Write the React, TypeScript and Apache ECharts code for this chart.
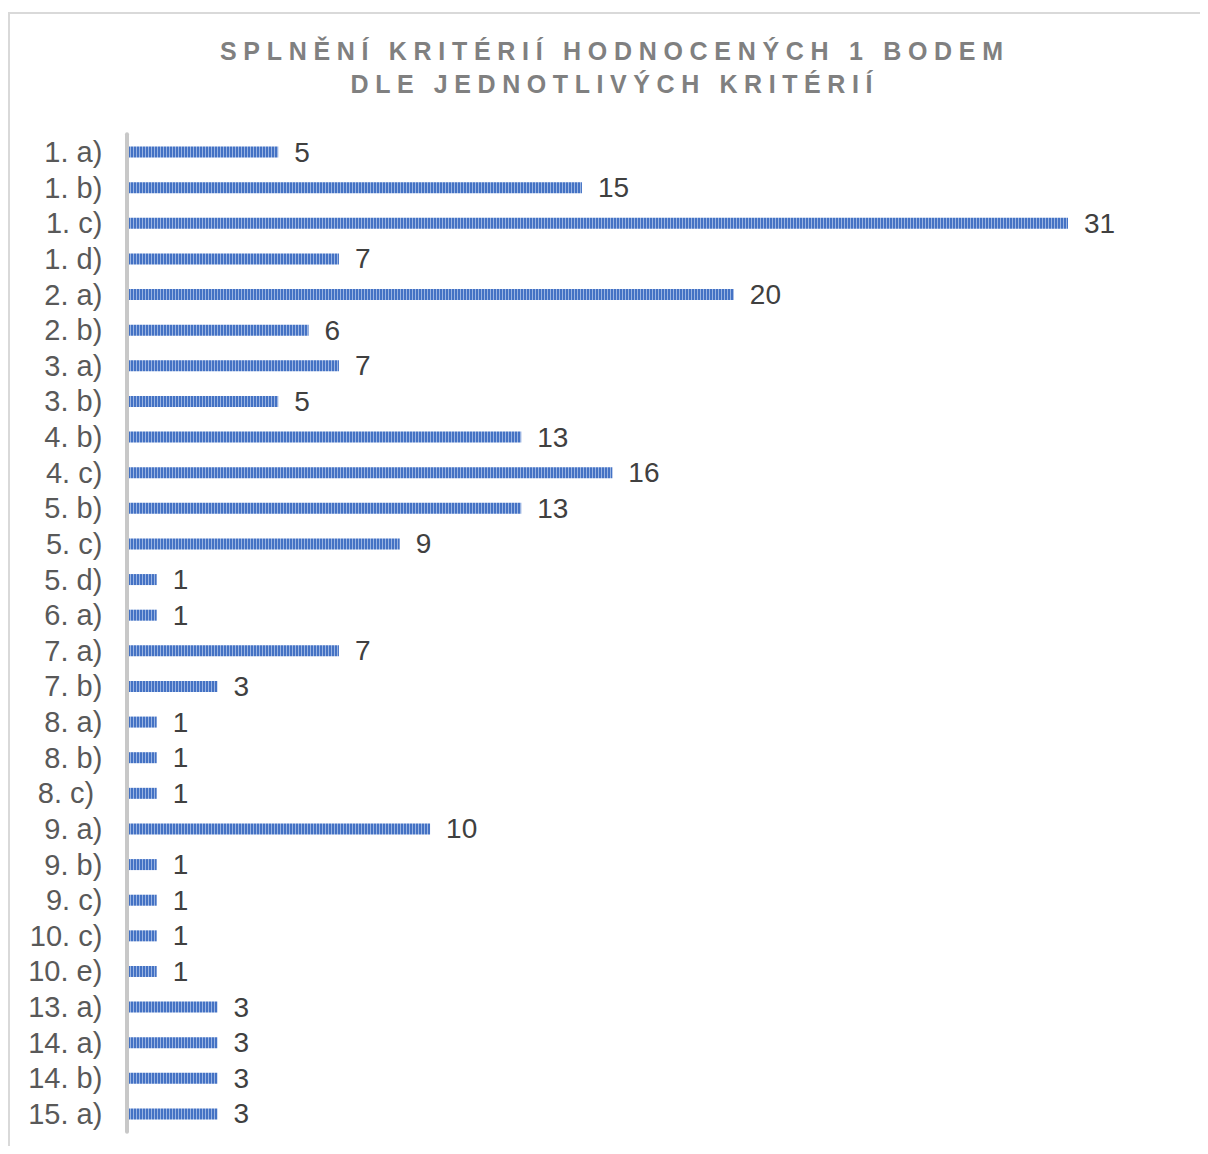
import React, { useEffect, useRef } from "react";
import * as echarts from "echarts";

const titleLines = ["SPLNĚNÍ KRITÉRIÍ HODNOCENÝCH 1 BODEM", "DLE JEDNOTLIVÝCH KRITÉRIÍ"];

const categories = [
  "1. a)", "1. b)", "1. c)", "1. d)", "2. a)", "2. b)", "3. a)", "3. b)",
  "4. b)", "4. c)", "5. b)", "5. c)", "5. d)", "6. a)", "7. a)", "7. b)",
  "8. a)", "8. b)", "8. c) ", "9. a)", "9. b)", "9. c)", "10. c)", "10. e)",
  "13. a)", "14. a)", "14. b)", "15. a)",
];

const values = [
  5, 15, 31, 7, 20, 6, 7, 5,
  13, 16, 13, 9, 1, 1, 7, 3,
  1, 1, 1, 10, 1, 1, 1, 1,
  3, 3, 3, 3,
];

const FONT = "'Liberation Sans', Arial, sans-serif";
const TITLE_FONT = `bold 25px ${FONT}`;
const titleTargetWidths = [783, 522];

function makeStripe(): any {
  const c = document.createElement("canvas");
  c.width = 3;
  c.height = 1;
  const ctx = c.getContext("2d");
  if (ctx) {
    ctx.fillStyle = "#4472C4";
    ctx.fillRect(0, 0, 2, 1);
    ctx.fillStyle = "#9AB4E2";
    ctx.fillRect(2, 0, 1, 1);
  }
  return { image: c, repeat: "repeat", imageWidth: 3, imageHeight: 1 };
}

function spacingFor(text: string, target: number): number {
  const c = document.createElement("canvas");
  const ctx = c.getContext("2d");
  if (!ctx) return 8;
  ctx.font = TITLE_FONT;
  const w = ctx.measureText(text).width;
  const n = Array.from(text).length;
  return Math.max(0, (target - w) / (n - 1));
}

export default function App() {
  const ref = useRef<HTMLDivElement>(null);

  useEffect(() => {
    if (!ref.current) return;
    const chart = echarts.init(ref.current, null, { renderer: "svg" });
    const ls = titleLines.map((t, i) => spacingFor(t, titleTargetWidths[i]));
    const centerX = 603.5;
    chart.setOption({
      animation: false,
      backgroundColor: "#ffffff",
      graphic: [
        {
          type: "rect",
          shape: { x: 1, y: 5, width: 1400, height: 1400 },
          style: { fill: "none", stroke: "#D9D9D9", lineWidth: 2 },
          silent: true,
        },
        {
          type: "text",
          style: {
            text: titleLines[0],
            x: centerX + ls[0] / 2,
            y: 43,
            textAlign: "center",
            textVerticalAlign: "middle",
            font: TITLE_FONT,
            fill: "#808080",
          },
        },
        {
          type: "text",
          style: {
            text: titleLines[1],
            x: centerX + ls[1] / 2,
            y: 76,
            textAlign: "center",
            textVerticalAlign: "middle",
            font: TITLE_FONT,
            fill: "#808080",
          },
        },
      ],
      grid: {
        left: 118.3,
        top: 126.2,
        width: 941.7,
        height: 997.6,
        containLabel: false,
      },
      xAxis: {
        type: "value",
        min: 0,
        max: 31,
        show: false,
        splitLine: { show: false },
      },
      yAxis: {
        type: "category",
        data: categories,
        inverse: true,
        z: 3,
        axisLine: { show: true, lineStyle: { color: "#C8C8C8", width: 4 } },
        axisTick: { show: false },
        axisLabel: {
          interval: 0,
          margin: 24,
          fontSize: 29,
          color: "#595959",
          fontFamily: FONT,
        },
      },
      series: [
        {
          type: "bar",
          data: values,
          barWidth: 11,
          itemStyle: { color: makeStripe() },
          label: {
            show: true,
            position: "right",
            distance: 16,
            fontSize: 28,
            color: "#404040",
            fontFamily: FONT,
          },
        },
      ],
    });
    const texts = ref.current.querySelectorAll("text");
    texts.forEach((t) => {
      const idx = titleLines.indexOf((t.textContent || "").trim());
      if (idx >= 0) {
        t.setAttribute("letter-spacing", String(ls[idx]));
        (t as any).style.letterSpacing = ls[idx] + "px";
      }
    });
    return () => chart.dispose();
  }, []);

  return <div ref={ref} style={{ width: 1200, height: 1138 }} />;
}
